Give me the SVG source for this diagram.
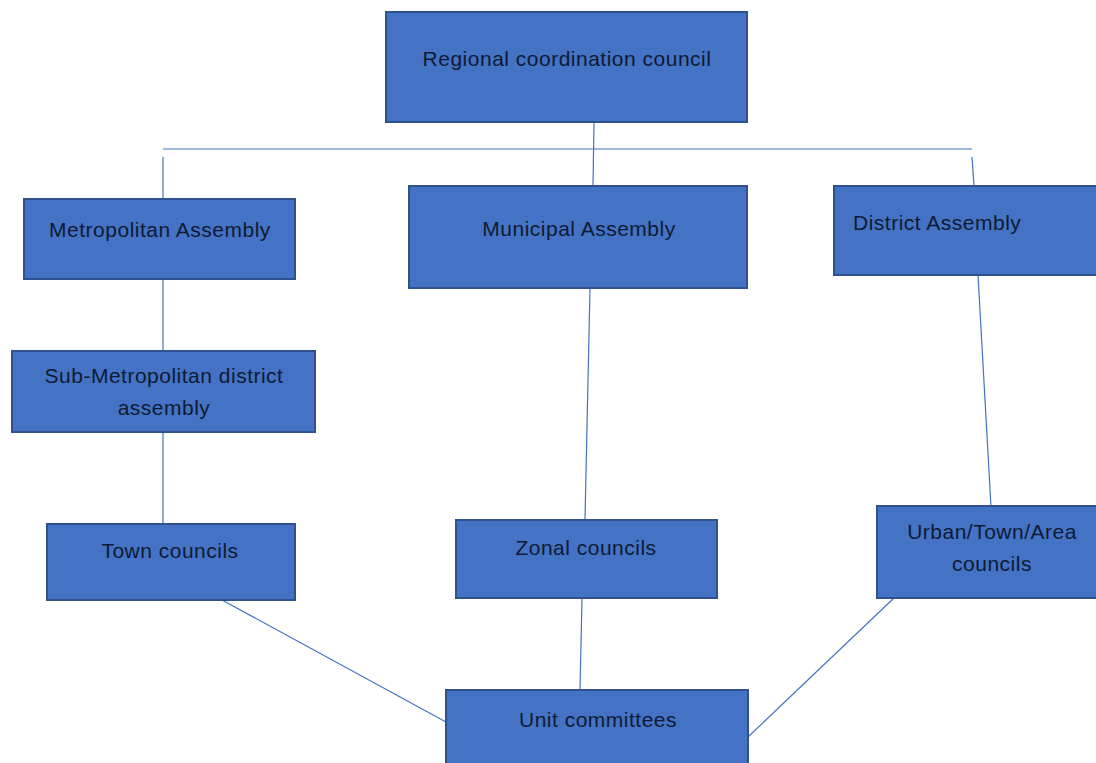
<svg xmlns="http://www.w3.org/2000/svg" width="1096" height="763" viewBox="0 0 1096 763">
<style>
.box{fill:#4472C4;stroke:#2F528F;stroke-width:2}
.t{font-family:"Liberation Sans",Arial,sans-serif;font-size:21px;letter-spacing:0.5px;fill:#0f1a33;text-anchor:middle}
.c{stroke:#4472C4;stroke-width:1.2;fill:none}
</style>
<rect width="1096" height="763" fill="#fff"/>
<g id="connectors">
<line class="c" x1="163" y1="149" x2="972" y2="149"/>
<line class="c" x1="594" y1="122" x2="593" y2="186"/>
<line class="c" x1="163" y1="157" x2="163" y2="199"/>
<line class="c" x1="972" y1="157" x2="974" y2="186"/>
<line class="c" x1="163" y1="279" x2="163" y2="351"/>
<line class="c" x1="163" y1="432" x2="163" y2="524"/>
<line class="c" x1="590" y1="288" x2="585" y2="520"/>
<line class="c" x1="978" y1="275" x2="991" y2="507"/>
<line class="c" x1="582" y1="598" x2="580" y2="690"/>
<line class="c" x1="222" y1="600" x2="446" y2="722"/>
<line class="c" x1="894" y1="598" x2="748" y2="737"/>
</g>
<g id="regional"><rect class="box" x="386" y="12" width="361" height="110"/><text class="t" x="567" y="66">Regional coordination council</text></g>
<g id="metropolitan"><rect class="box" x="24" y="199" width="271" height="80"/><text class="t" x="160" y="237">Metropolitan Assembly</text></g>
<g id="municipal"><rect class="box" x="409" y="186" width="338" height="102"/><text class="t" x="579" y="236">Municipal Assembly</text></g>
<g id="district"><rect class="box" x="834" y="186" width="270" height="89"/><text class="t" x="853" y="230" style="text-anchor:start">District Assembly</text></g>
<g id="submetro"><rect class="box" x="12" y="351" width="303" height="81"/><text class="t" x="164" y="383">Sub-Metropolitan district</text><text class="t" x="164" y="415">assembly</text></g>
<g id="town"><rect class="box" x="47" y="524" width="248" height="76"/><text class="t" x="170" y="558">Town councils</text></g>
<g id="zonal"><rect class="box" x="456" y="520" width="261" height="78"/><text class="t" x="586" y="555">Zonal councils</text></g>
<g id="urban"><rect class="box" x="877" y="506" width="230" height="92"/><text class="t" x="992" y="539">Urban/Town/Area</text><text class="t" x="992" y="571">councils</text></g>
<g id="unit"><rect class="box" x="446" y="690" width="302" height="90"/><text class="t" x="598" y="727">Unit committees</text></g>
</svg>
